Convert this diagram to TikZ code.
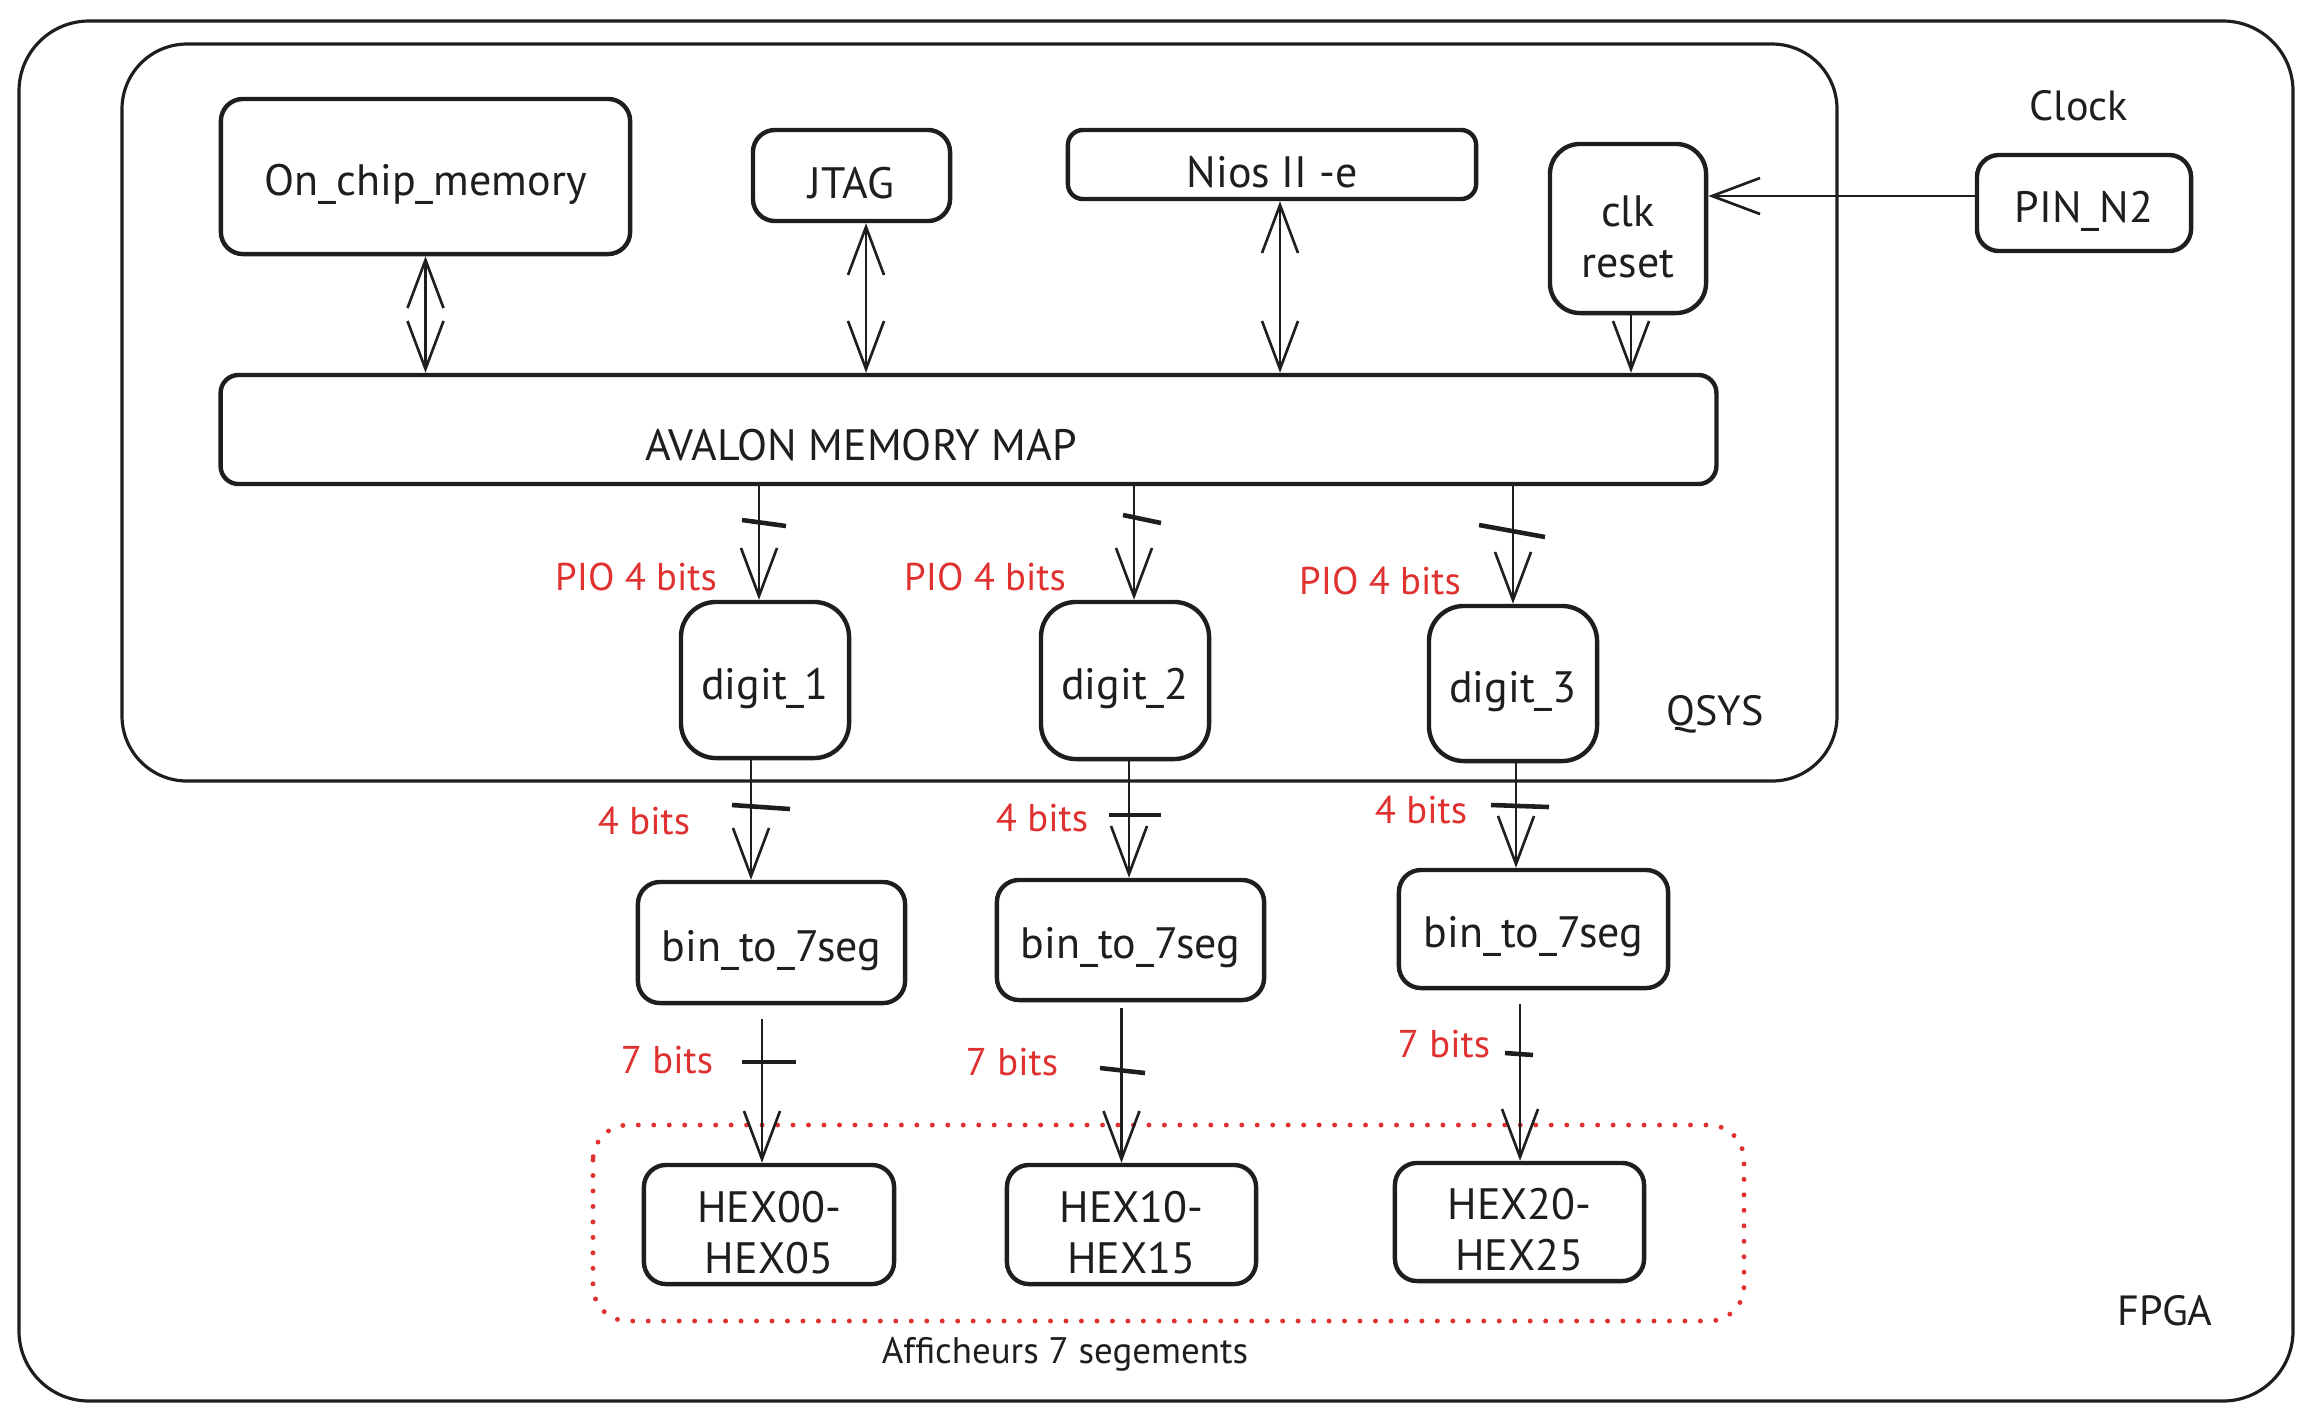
\documentclass[tikz,border=0pt]{standalone}
\usepackage{fontspec}
\setmainfont{PT Sans}
\usetikzlibrary{arrows.meta,calc}
\definecolor{ink}{HTML}{1E1E1E}
\definecolor{exred}{HTML}{E03131}
\tikzset{tipA/.tip={Straight Barb[length=0.48cm,width=0.36cm,line width=0.75pt]}}
\begin{document}
\begin{tikzpicture}[x=0.01cm,y=-0.01cm,
  frame/.style={draw=ink,line width=0.9pt},
  box/.style={draw=ink,line width=1.25pt,rounded corners=0.22cm,inner sep=0pt},
  boxtxt/.style={yshift=-0.08cm,font=\fontsize{12.5}{14.5}\selectfont,align=center,text=ink,inner sep=0pt},
  arr/.style={draw=ink,line width=0.75pt,-tipA},
  dbl/.style={draw=ink,line width=0.75pt,tipA-tipA},
  tickmark/.style={draw=ink,line width=1.3pt},
  lbl/.style={text=exred,font=\fontsize{11}{13}\selectfont,inner sep=0pt},
  txt/.style={text=ink,font=\fontsize{12}{14}\selectfont,inner sep=0pt}]
\useasboundingbox (0,0) rectangle (2312,1420);
% frames
\draw[frame,rounded corners=0.7cm] (19,21) rectangle (2293,1401);
\draw[frame,rounded corners=0.65cm] (122,44) rectangle (1837,781);
\draw[exred,line width=1.4pt,dash pattern=on 0pt off 4.4pt,line cap=round,rounded corners=0.35cm] (593,1125) rectangle (1744,1321);
% nodes
\node[box,minimum width=4.09cm,minimum height=1.55cm,label={[boxtxt]center:{On\_chip\_memory}}] (onchip) at (425.5,176.5) {};
\node[box,minimum width=1.97cm,minimum height=0.91cm,label={[boxtxt]center:{JTAG}}] (jtag) at (851.5,175.5) {};
\node[box,minimum width=4.08cm,minimum height=0.69cm,rounded corners=0.15cm,label={[boxtxt]center:{Nios II -e}}] (nios) at (1272,164.5) {};
\node[box,minimum width=1.56cm,minimum height=1.69cm,rounded corners=0.3cm,label={[boxtxt]center:{clk\\reset}}] (clk) at (1628,228.5) {};
\node[box,minimum width=2.14cm,minimum height=0.96cm,label={[boxtxt]center:{PIN\_N2}}] (pin) at (2084,203) {};
\node[txt] (clock) at (2079,106) {Clock};
\node[box,minimum width=14.95cm,minimum height=1.09cm,rounded corners=0.18cm] (avalon) at (968.5,429.5) {};
\node[txt,font=\fontsize{12.5}{14.5}\selectfont] (avalontxt) at (861,445) {AVALON MEMORY MAP};
\node[box,minimum width=1.68cm,minimum height=1.56cm,rounded corners=0.35cm,label={[boxtxt]center:{digit\_1}}] (d1) at (765,680) {};
\node[box,minimum width=1.68cm,minimum height=1.57cm,rounded corners=0.35cm,label={[boxtxt]center:{digit\_2}}] (d2) at (1125,680.5) {};
\node[box,minimum width=1.68cm,minimum height=1.55cm,rounded corners=0.35cm,label={[boxtxt]center:{digit\_3}}] (d3) at (1513,683.5) {};
\node[txt] (qsys) at (1715,714) {QSYS};
\node[box,minimum width=2.67cm,minimum height=1.21cm,label={[boxtxt]center:{bin\_to\_7seg}}] (b1) at (771.5,942.5) {};
\node[box,minimum width=2.67cm,minimum height=1.20cm,label={[boxtxt]center:{bin\_to\_7seg}}] (b2) at (1130.5,940) {};
\node[box,minimum width=2.69cm,minimum height=1.18cm,label={[boxtxt]center:{bin\_to\_7seg}}] (b3) at (1533.5,929) {};
\node[box,minimum width=2.50cm,minimum height=1.19cm,label={[boxtxt]center:{HEX00-\\HEX05}}] (h1) at (769,1224.5) {};
\node[box,minimum width=2.49cm,minimum height=1.19cm,label={[boxtxt]center:{HEX10-\\HEX15}}] (h2) at (1131.5,1224.5) {};
\node[box,minimum width=2.49cm,minimum height=1.18cm,label={[boxtxt]center:{HEX20-\\HEX25}}] (h3) at (1519.5,1222) {};
\node[txt,font=\fontsize{10.5}{12.5}\selectfont] (aff) at (1065,1354) {Afficheurs 7 segements};
\node[txt] (fpga) at (2165,1311) {FPGA};
% labels
\node[lbl] (p1) at (636,577) {PIO 4 bits};
\node[lbl] (p2) at (985,577) {PIO 4 bits};
\node[lbl] (p3) at (1380,581) {PIO 4 bits};
\node[lbl] (f1) at (644,821) {4 bits};
\node[lbl] (f2) at (1042,818) {4 bits};
\node[lbl] (f3) at (1421,810) {4 bits};
\node[lbl] (s1) at (667,1060) {7 bits};
\node[lbl] (s2) at (1012,1062) {7 bits};
\node[lbl] (s3) at (1444,1044) {7 bits};
% connectors top
\draw[dbl] (onchip.south) -- (onchip.south |- avalon.north);
\draw[dbl] ([xshift=0.145cm]jtag.south) -- ([xshift=0.145cm]jtag.south |- avalon.north);
\draw[dbl] ([xshift=0.08cm]nios.south) -- ([xshift=0.08cm]nios.south |- avalon.north);
\draw[arr] ([xshift=0.03cm]clk.south) -- ([xshift=0.03cm]clk.south |- avalon.north);
\draw[arr] ([yshift=0.07cm]pin.west) -- ([yshift=0.07cm]pin.west -| clk.east);
% avalon to digits
\draw[arr] ([xshift=-0.06cm]d1.north |- avalon.south) -- ([xshift=-0.06cm]d1.north);
\draw[arr] ([xshift=0.09cm]d2.north |- avalon.south) -- ([xshift=0.09cm]d2.north);
\draw[arr] (d3.north |- avalon.south) -- (d3.north);
% digits to bin
\draw[arr] ([xshift=-0.14cm]d1.south) -- ([xshift=-0.14cm]d1.south |- b1.north);
\draw[arr] ([xshift=0.04cm]d2.south) -- ([xshift=0.04cm]d2.south |- b2.north);
\draw[arr] ([xshift=0.03cm]d3.south) -- ([xshift=0.03cm]d3.south |- b3.north);
% bin to hex
\draw[arr] ([xshift=-0.07cm]h1.north |- b1.south) ++(0,14) -- ([xshift=-0.07cm]h1.north);
\draw[arr] ([xshift=-0.1cm]h2.north |- b2.south) ++(0,6) -- ([xshift=-0.1cm]h2.north);
\draw[arr] ([xshift=0.005cm]h3.north |- b3.south) ++(0,14) -- ([xshift=0.005cm]h3.north);
% bus ticks
\draw[tickmark] (742,520) -- (786,526);
\draw[tickmark] (1123,515) -- (1161,523);
\draw[tickmark] (1479,525) -- (1545,537);
\draw[tickmark] (732,805) -- (790,809);
\draw[tickmark] (1109,815) -- (1161,815);
\draw[tickmark] (1491,805) -- (1549,807);
\draw[tickmark] (742,1062) -- (796,1062);
\draw[tickmark] (1100,1068) -- (1145,1073);
\draw[tickmark] (1505,1053) -- (1533,1055);
\end{tikzpicture}
\end{document}
